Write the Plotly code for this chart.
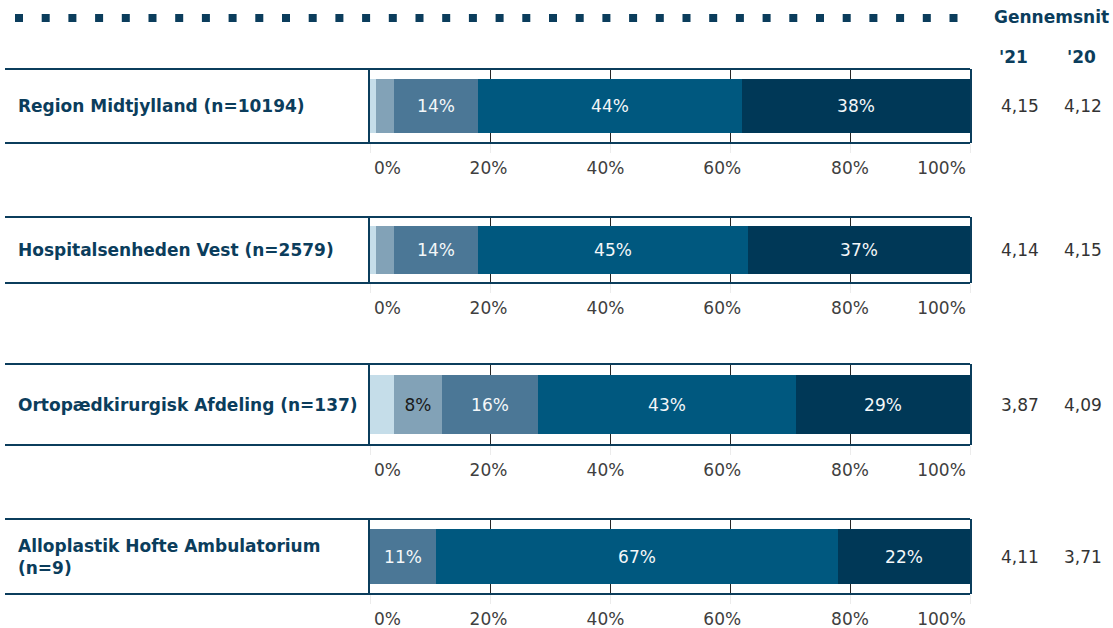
import plotly.graph_objects as go

# ---------------- data ----------------
categories = [
    "Region Midtjylland (n=10194)",
    "Hospitalsenheden Vest (n=2579)",
    "Ortopædkirurgisk Afdeling (n=137)",
    "Alloplastik Hofte Ambulatorium<br>(n=9)",
]
# share (%) per answer level, lowest -> highest
level1 = [1, 1, 4, 0]
level2 = [3, 3, 8, 0]
level3 = [14, 14, 16, 11]
level4 = [44, 45, 43, 67]
level5 = [38, 37, 29, 22]
levels = [level1, level2, level3, level4, level5]

mean_2021 = ["4,15", "4,14", "3,87", "4,11"]
mean_2020 = ["4,12", "4,15", "4,09", "3,71"]

tick_values = [0, 20, 40, 60, 80, 100]
tick_labels = ["0%", "20%", "40%", "60%", "80%", "100%"]

header_title = "Gennemsnit"
year_labels = ["'21", "'20"]

# ---------------- style ----------------
W, H = 1113, 628
NAVY = "#0b3d5c"
level_colors = ["#c5dde9", "#82a2b7", "#4b7796", "#00587f", "#003857"]
level_text_colors = ["#1a1a1a", "#1a1a1a", "#f4f7f9", "#f4f7f9", "#f4f7f9"]
FONT = "DejaVu Sans"
FS = 17

# the original nudges the outer tick labels inward (label placement only)
label_nudge = [2.9, -0.25, -0.75, -1.3, 0.0, -4.75]

# row boxes in pixels (top, bottom)
row_boxes = [(69, 143), (217, 283), (364, 445), (519, 594)]
plot_x0, plot_x1 = 370, 970
box_left = 5


def px_x(x):
    return x / W


def px_y(y):
    return 1 - y / H


fig = go.Figure()
layout_axes = {}
shapes = []
annotations = []
n_rows = len(categories)

for r, cat in enumerate(categories):
    idx = "" if r == 0 else str(r + 1)
    lidx = str(r + 1 + n_rows)
    xa, ya = "x" + idx, "y" + idx
    top, bot = row_boxes[r]
    for li, vals in enumerate(levels):
        v = vals[r]
        fig.add_trace(go.Bar(
            x=[v], y=[0.5], orientation="h", width=0.74,
            xaxis=xa, yaxis=ya,
            marker=dict(color=level_colors[li], line=dict(width=0)),
            text=[f"{v}%" if v >= 5 else ""],
            textposition="inside", insidetextanchor="middle",
            textfont=dict(family=FONT, size=FS, color=level_text_colors[li]),
            showlegend=False, hoverinfo="skip",
        ))
    dom = [px_x(plot_x0), px_x(plot_x1)]
    layout_axes["xaxis" + idx] = dict(
        domain=dom, range=[0, 100],
        anchor=ya, tickvals=tick_values, showticklabels=False,
        showgrid=True, gridcolor="#262626", gridwidth=1,
        zeroline=False, showline=False,
        ticks="outside", ticklen=9, tickcolor="#ececec", tickwidth=1,
        fixedrange=True, automargin=False,
    )
    # label-only axis sharing the same scale
    layout_axes["xaxis" + lidx] = dict(
        domain=dom, range=[0, 100], overlaying=xa, anchor=ya, side="bottom",
        tickvals=[t + n for t, n in zip(tick_values, label_nudge)],
        ticktext=tick_labels, ticks="", showgrid=False, zeroline=False,
        showline=False, ticklabelstandoff=13,
        tickfont=dict(family=FONT, size=FS, color="#404040"),
        fixedrange=True, automargin=False,
    )
    layout_axes["yaxis" + idx] = dict(
        domain=[px_y(bot), px_y(top)], range=[0, 1], anchor=xa,
        showticklabels=False, ticks="", showgrid=False, zeroline=False,
        showline=True, mirror=True, linecolor=NAVY, linewidth=1.5,
        fixedrange=True, automargin=False,
    )
    # dummy trace so the label axis is drawn
    fig.add_trace(go.Scatter(x=[None], y=[None], xaxis="x" + lidx, yaxis=ya,
                             showlegend=False, hoverinfo="skip"))
    # horizontal box borders across label panel and plot
    for yy in (top, bot):
        shapes.append(dict(type="line", xref="paper", yref="paper",
                           x0=px_x(box_left), x1=px_x(plot_x1),
                           y0=px_y(yy), y1=px_y(yy),
                           line=dict(color=NAVY, width=2)))
    ymid = px_y((top + bot) / 2)
    annotations.append(dict(
        text=cat, xref="paper", yref="paper", x=px_x(16), y=ymid,
        xanchor="left", yanchor="middle", align="left", showarrow=False,
        font=dict(family=FONT, size=FS, color=NAVY, weight="bold"),
    ))
    annotations.append(dict(
        text=mean_2021[r], xref="paper", yref="paper", x=px_x(1020), y=ymid,
        xanchor="center", yanchor="middle", showarrow=False,
        font=dict(family=FONT, size=FS, color="#333333"),
    ))
    annotations.append(dict(
        text=mean_2020[r], xref="paper", yref="paper", x=px_x(1083), y=ymid,
        xanchor="center", yanchor="middle", showarrow=False,
        font=dict(family=FONT, size=FS, color="#333333"),
    ))

# header
annotations.append(dict(
    text=header_title, xref="paper", yref="paper", x=px_x(1051), y=px_y(17),
    xanchor="center", yanchor="middle", showarrow=False,
    font=dict(family=FONT, size=FS, color=NAVY, weight="bold"),
))
for lbl, xc in zip(year_labels, (1013, 1081)):
    annotations.append(dict(
        text=lbl, xref="paper", yref="paper", x=px_x(xc), y=px_y(57),
        xanchor="center", yanchor="middle", showarrow=False,
        font=dict(family=FONT, size=FS, color=NAVY, weight="bold"),
    ))

# dotted decorative line at top
shapes.append(dict(type="line", xref="paper", yref="paper",
                   x0=px_x(15), x1=px_x(958), y0=px_y(18), y1=px_y(18),
                   line=dict(color=NAVY, width=8, dash="8px,18.7px")))

fig.update_layout(
    width=W, height=H,
    margin=dict(l=0, r=0, t=0, b=0, pad=0, autoexpand=False),
    paper_bgcolor="white", plot_bgcolor="white",
    barmode="stack", bargap=0, showlegend=False,
    shapes=shapes, annotations=annotations,
    **layout_axes,
)

fig.write_html(
    "out.html",
    config={"displayModeBar": False},
    post_script="document.body.style.margin='0';document.body.style.overflow='hidden';",
)
